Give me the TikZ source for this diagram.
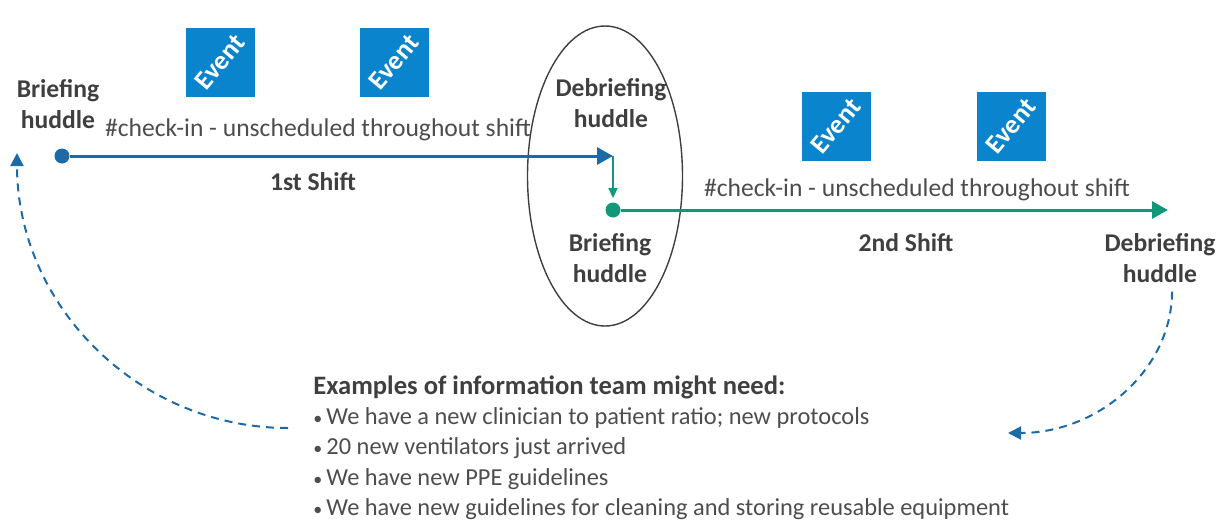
\documentclass[tikz,border=0pt]{standalone}
\usepackage{fontspec}
\setmainfont{Carlito}
\usetikzlibrary{arrows.meta,shapes.geometric}
\definecolor{shiftblue}{HTML}{1D6AA9}
\definecolor{eventblue}{HTML}{0A84CC}
\definecolor{shiftgreen}{HTML}{13977B}
\definecolor{labelgray}{HTML}{3F3F3F}
\definecolor{textgray}{HTML}{4D4D4D}
\newcommand{\arw}{-{Triangle[length=8pt,width=8.5pt]}}
\newcommand{\darw}{-{Triangle[length=6.5pt,width=6.5pt]}}
\newcommand{\itm}{{\fontsize{9}{9}\selectfont\textbullet}\,}

\begin{document}
\fontsize{12.8}{15.5}\selectfont
\begin{tikzpicture}[x=.5pt,y=-.5pt,
  huddle/.style={font=\bfseries, text=labelgray, align=center},
  checkin/.style={text=textgray},
  event/.style={fill=eventblue, text=white, font=\fontsize{13.4}{14}\selectfont\bfseries,
    minimum size=34.5pt, inner sep=0pt},
  dot/.style={circle, fill=#1, inner sep=0pt, minimum size=7.5pt},
  loopback/.style={shiftblue, line width=1pt, dash pattern=on 4pt off 3pt}]
\useasboundingbox (0,0) rectangle (1226,520);
%events during the shifts
\node[event] (ev1) at (220,62) {\rotatebox{50}{Event}};
\node[event] (ev2) at (394,62) {\rotatebox{50}{Event}};
\node[event] (ev3) at (836,126) {\rotatebox{50}{Event}};
\node[event] (ev4) at (1011,126) {\rotatebox{50}{Event}};
%huddle between the shifts
\node[draw=labelgray, line width=.7pt, ellipse, inner sep=0pt,
  minimum width=77.5pt, minimum height=150pt] (handover) at (605,176) {};
\node[huddle] (brief1) at (58,104) {Briefing\\huddle};
\node[huddle] (debrief1) at (611,103) {Debriefing\\huddle};
\node[huddle] (brief2) at (610,258) {Briefing\\huddle};
\node[huddle] (debrief2) at (1160,258) {Debriefing\\huddle};
\node[checkin] (checkin1) at (318,130) {\#check-in - unscheduled throughout shift};
\node[checkin] (checkin2) at (917,190) {\#check-in - unscheduled throughout shift};
\node[huddle] (shift1) at (313,182) {1st Shift};
\node[huddle] (shift2) at (906,243) {2nd Shift};
%1st shift
\node[dot=shiftblue] (dot1) at (62,156) {};
\coordinate (end1) at (613,156);
\draw[shiftblue, line width=1.5pt, \arw] (dot1) -- (end1);
\node[dot=shiftgreen] (dot2) at (613,210) {};
\draw[shiftgreen, line width=.7pt, -{Triangle[length=5pt,width=4.5pt]}] (end1) -- ([yshift=2pt]dot2.north);
%2nd shift
\coordinate (end2) at (1168,210);
\draw[shiftgreen, line width=1.5pt, \arw] (dot2) -- (end2);
%information fed back
\node[anchor=north west, text=textgray, align=left, inner sep=0pt,
  font=\fontsize{12.2}{15.2}\selectfont] (examples) at (313,375)
  {\textcolor{labelgray}{\fontsize{13.3}{15.2}\selectfont\bfseries Examples of information team might need:}\\
   \itm We have a new clinician to patient ratio; new protocols\\
   \itm 20 new ventilators just arrived\\
   \itm We have new PPE guidelines\\
   \itm We have new guidelines for cleaning and storing reusable equipment};
\coordinate (back2) at (1008,433);
\draw[loopback, \darw] ([xshift=6pt]debrief2.south) .. controls (1172,369) and (1099,433) .. (back2);
\coordinate (back1) at (288,428);
\coordinate (top1) at (17,153);
\draw[loopback, \darw] (back1) .. controls (139,428) and (17,306) .. (top1);
\end{tikzpicture}
\end{document}
